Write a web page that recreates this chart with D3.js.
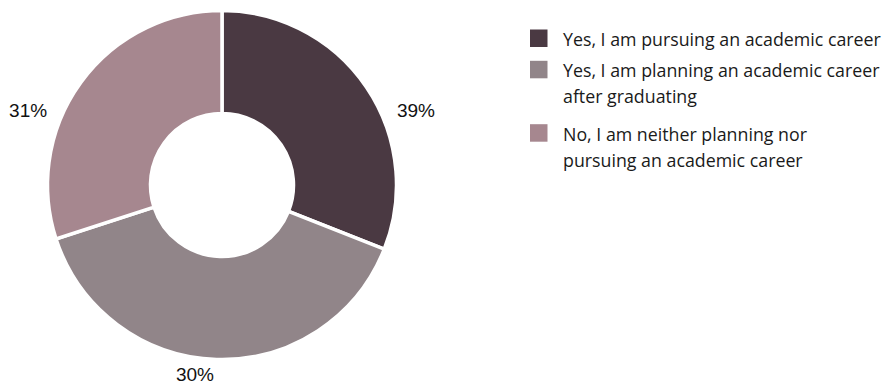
<!DOCTYPE html>
<html>
<head>
<meta charset="utf-8">
<script src="https://cdn.jsdelivr.net/npm/d3@7"></script>
<style>
  html, body { margin: 0; padding: 0; background: #ffffff; }
  svg { display: block; }
</style>
</head>
<body>
<svg id="chart" width="893" height="387"></svg>
<script>
// ---- DATA ----
const categories = [
  "Yes, I am pursuing an academic career",
  "Yes, I am planning an academic career after graduating",
  "No, I am neither planning nor pursuing an academic career"
];
// slice sizes as drawn in the donut
const sliceValues = [31, 39, 30];
// percentage labels as printed beside the slices
const percentLabels = [39, 30, 31];
// legend text, split in lines
const legendLines = [
  ["Yes, I am pursuing an academic career"],
  ["Yes, I am planning an academic career", "after graduating"],
  ["No, I am neither planning nor", "pursuing an academic career"]
];
const colors = ["#4a3942", "#918589", "#a6878f"];

// ---- LAYOUT ----
const W = 893, H = 387;
const cx = 222, cy = 185;
const outerR = 174.5, innerR = 71.5, gap = 3.5;
const labelR = 190;
const labelAngleDeg = [67, 188.2, 293]; // where the original places each percentage label

const svg = d3.select("#chart");
const g = svg.append("g").attr("transform", `translate(${cx},${cy})`);

const color = d3.scaleOrdinal().domain(categories).range(colors);

const pie = d3.pie().sort(null).value(d => d.value);
const arcs = pie(categories.map((c, i) => ({ cat: c, value: sliceValues[i] })));
const arc = d3.arc().innerRadius(innerR).outerRadius(outerR);

g.selectAll("path.slice")
  .data(arcs)
  .join("path")
  .attr("class", "slice")
  .attr("d", arc)
  .attr("fill", d => color(d.data.cat))
  .attr("stroke", "#ffffff")
  .attr("stroke-width", gap)
  .attr("stroke-linejoin", "miter");

// percentage labels
const fmt = d => d + "%";
g.selectAll("text.pct")
  .data(percentLabels)
  .join("text")
  .attr("class", "pct")
  .each(function (d, i) {
    const a = labelAngleDeg[i] * Math.PI / 180;
    const s = Math.sin(a), c = Math.cos(a);
    const x = labelR * s, y = -labelR * c;
    const t = d3.select(this);
    let anchor = "middle", dy = 0;
    if (s > 0.35) anchor = "start";
    else if (s < -0.35) anchor = "end";
    if (c < -0.9) dy = 1;
    t.attr("x", x).attr("y", y + dy)
      .attr("text-anchor", anchor)
      .attr("dominant-baseline", "central");
  })
  .attr("font-family", "'Liberation Sans', Arial, sans-serif")
  .attr("font-size", 19)
  .attr("fill", "#111111")
  .text(fmt);

// legend
const legend = svg.append("g").attr("transform", "translate(530,0)");
const itemY = [46, 77.3, 140.7];
const lineH = 26;
const items = legend.selectAll("g.item")
  .data(categories)
  .join("g")
  .attr("class", "item")
  .attr("transform", (d, i) => `translate(0,${itemY[i]})`);

items.append("rect")
  .attr("x", 0)
  .attr("y", -16.5)
  .attr("width", 17.5)
  .attr("height", 17.5)
  .attr("fill", d => color(d));

items.append("text")
  .attr("x", 33)
  .attr("y", 0)
  .attr("font-family", "'Open Sans', 'Noto Sans', sans-serif")
  .attr("font-size", 17.8)
  .attr("fill", "#1a1a1a")
  .selectAll("tspan")
  .data((d, i) => legendLines[i])
  .join("tspan")
  .attr("x", 33)
  .attr("dy", (d, j) => j === 0 ? 0 : lineH)
  .text(d => d);
</script>
</body>
</html>
